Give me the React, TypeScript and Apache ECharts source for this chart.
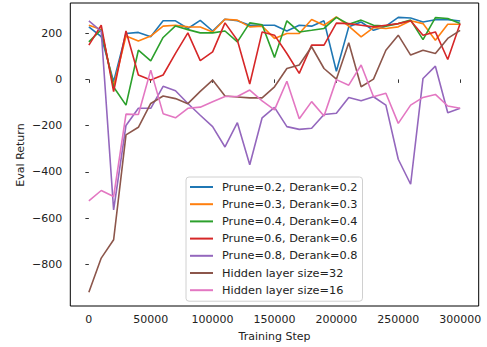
import React, { useEffect, useRef } from "react";
import * as echarts from "echarts";

// Training steps: one evaluation every 10000 steps
const steps: number[] = Array.from({ length: 31 }, (_, i) => i * 10000);

const seriesNames: string[] = [
  "Prune=0.2, Derank=0.2",
  "Prune=0.3, Derank=0.3",
  "Prune=0.4, Derank=0.4",
  "Prune=0.6, Derank=0.6",
  "Prune=0.8, Derank=0.8",
  "Hidden layer size=32",
  "Hidden layer size=16",
];

const prune02: number[] = [227, 185, -10, 198, 203, 184, 253, 253, 220, 255, 209, 260, 253, 234, 234, 234, 209, 234, 230, 253, 35, 227, 248, 212, 230, 268, 265, 248, 258, 258, 252];
const prune03: number[] = [234, 215, -30, 187, 166, 187, 230, 234, 227, 226, 205, 260, 256, 227, 230, 177, 198, 198, 259, 234, 270, 230, 184, 224, 220, 227, 253, 241, 169, 238, 238];
const prune04: number[] = [162, 215, -33, -111, 126, 80, 181, 231, 215, 201, 201, 209, 162, 244, 236, 95, 253, 205, 212, 220, 268, 238, 256, 234, 230, 241, 256, 172, 267, 263, 241];
const prune06: number[] = [148, 234, -53, 209, 19, -3, 19, 112, 201, 81, 119, 244, 169, -20, 205, 191, 112, 26, 148, 148, 243, 241, 234, 227, 234, 241, 253, 191, 205, 86, 241];
const prune08: number[] = [253, 208, -564, -199, -125, -125, -30, -49, -104, -155, -204, -292, -187, -369, -166, -121, -204, -216, -211, -152, -146, -78, -92, -75, -111, -345, -453, 4, 57, -144, -125];
const hidden32: number[] = [-920, -772, -693, -240, -207, -104, -72, -83, -105, -52, -3, -72, -76, -80, -80, -32, 47, 62, 141, 47, 1, 158, -32, 1, 126, 191, 105, 126, 112, 177, 212];
const hidden16: number[] = [-525, -480, -506, -150, -152, 40, -148, -166, -125, -120, -97, -74, -74, -46, -93, -132, -8, -170, -96, -158, -1, -25, 62, -75, -60, -190, -111, -78, -65, -115, -125];

const seriesValues: number[][] = [prune02, prune03, prune04, prune06, prune08, hidden32, hidden16];

const colors: string[] = ["#1f77b4", "#ff7f0e", "#2ca02c", "#d62728", "#9467bd", "#8c564b", "#e377c2"];

const xTicks: number[] = [0, 50000, 100000, 150000, 200000, 250000, 300000];
const yTicks: number[] = [-800, -600, -400, -200, 0, 200];

const FONT = "DejaVu Sans";
const TEXT = "#222";

export default function App() {
  const ref = useRef<HTMLDivElement>(null);

  useEffect(() => {
    if (!ref.current) return;
    const chart = echarts.init(ref.current, undefined, { renderer: "svg" });

    const series = seriesNames.map((name, k) => ({
      name,
      type: "line",
      data: steps.map((s, i) => [s, seriesValues[k][i]]),
      showSymbol: false,
      symbol: "none",
      color: colors[k],
      lineStyle: { width: 1.6, color: colors[k] },
      emphasis: { disabled: true },
    }));

    chart.setOption({
      animation: false,
      backgroundColor: "#fff",
      textStyle: { fontFamily: FONT },
      grid: {
        left: 70.3,
        right: 8.3,
        top: 3,
        bottom: 41,
        show: true,
        borderColor: "#000",
        borderWidth: 1,
        containLabel: false,
        outerBoundsMode: "none",
      },
      xAxis: {
        type: "value",
        min: -15000,
        max: 315000,
        splitLine: { show: false },
        axisLine: { show: false },
        axisTick: {
          show: true,
          length: 3.5,
          lineStyle: { color: "#000", width: 0.8 },
          customValues: xTicks,
        },
        axisLabel: {
          customValues: xTicks,
          margin: 8,
          fontSize: 11,
          fontFamily: FONT,
          color: TEXT,
          formatter: (v: number) => String(v),
        },
      },
      yAxis: {
        type: "value",
        min: -979,
        max: 330,
        splitLine: { show: false },
        axisLine: { show: false },
        axisTick: {
          show: true,
          length: 3.5,
          lineStyle: { color: "#000", width: 0.8 },
          customValues: yTicks,
        },
        axisLabel: {
          customValues: yTicks,
          margin: 8,
          fontSize: 11,
          fontFamily: FONT,
          color: TEXT,
          formatter: (v: number) => (v < 0 ? "\u2212" + Math.abs(v) : String(v)),
        },
      },
      legend: {
        orient: "vertical",
        left: 186,
        top: 177,
        padding: [4, 5, 5, 4],
        itemWidth: 23,
        itemHeight: 12,
        itemGap: 5.2,
        backgroundColor: "rgba(255,255,255,0.85)",
        borderColor: "#d0d0d0",
        borderWidth: 1,
        borderRadius: 3,
        icon: "path://M0,5 L23,5 L23,7 L0,7 Z",
        textStyle: {
          fontSize: 11.3,
          fontFamily: FONT,
          color: TEXT,
          lineHeight: 12,
          padding: [0, 0, 0, 4],
        },
        data: seriesNames,
      },
      graphic: [
        {
          type: "text",
          x: 274.5,
          y: 336,
          style: {
            text: "Training Step",
            fontSize: 11,
            fontFamily: FONT,
            fill: TEXT,
            align: "center",
            verticalAlign: "middle",
          },
        },
        {
          type: "text",
          x: 20,
          y: 155,
          rotation: Math.PI / 2,
          style: {
            text: "Eval Return",
            fontSize: 11,
            fontFamily: FONT,
            fill: TEXT,
            align: "center",
            verticalAlign: "middle",
          },
        },
      ],
      series,
    });

    return () => chart.dispose();
  }, []);

  return <div ref={ref} style={{ width: 487, height: 347, position: "absolute", left: 0, top: 0 }} />;
}
